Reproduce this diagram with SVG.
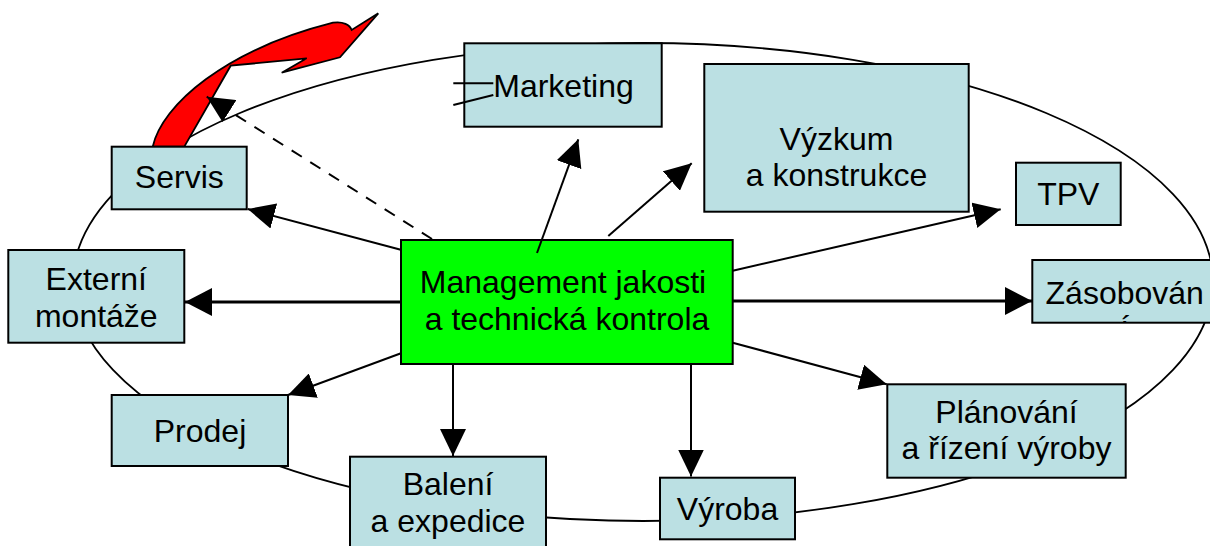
<svg xmlns="http://www.w3.org/2000/svg" width="1210" height="546" viewBox="0 0 1210 546">
<style>
.box{fill:#BBE0E3;stroke:#000;stroke-width:2}
.main{fill:#00FF00;stroke:#000;stroke-width:2}
.t{font-family:"Liberation Sans",Arial,sans-serif;font-size:32px;fill:#000;text-anchor:middle}
.c{fill:none;stroke:#000;stroke-width:2}
.thick{stroke-width:3}
.dash{stroke-dasharray:12 10}
.ring{fill:none;stroke:#000;stroke-width:1.8}
</style>
<defs>
<marker id="ah" viewBox="0 0 27 26" refX="27" refY="13" markerWidth="27" markerHeight="26" markerUnits="userSpaceOnUse" orient="auto">
<path d="M0,0 L27,13 L0,26 Z" fill="#000"/>
</marker>
<marker id="ahw" viewBox="0 0 27 28" refX="27" refY="14" markerWidth="27" markerHeight="28" markerUnits="userSpaceOnUse" orient="auto">
<path d="M0,0 L27,14 L0,28 Z" fill="#000"/>
</marker>
<clipPath id="zclip"><rect x="1032" y="260" width="185" height="62.7"/></clipPath>
</defs>

<ellipse class="ring" cx="643" cy="282" rx="570" ry="239"/>

<path id="red-arrow" d="M152.7,146.7 C162,105 225,50 333,22.7 C343,21 350,25 351.7,30 L378.3,13.3 L340,57.3 L281.7,72.7 L306.7,58.3 L230.7,65.7 L184.3,146.7 Z" fill="#FF0000" stroke="#000" stroke-width="1.8" stroke-linejoin="miter"/>

<g id="node-marketing"><rect class="box" x="464.3" y="43.3" width="197.4" height="83.4"/><text class="t" x="563.5" y="97">Marketing</text></g>
<g id="node-servis"><rect class="box" x="111.7" y="146.7" width="135" height="62.6"/><text class="t" x="179.3" y="188.3">Servis</text></g>
<g id="node-vyzkum"><rect class="box" x="704.3" y="64" width="264.4" height="147.7"/><text class="t" x="836.5" y="150">Výzkum</text><text class="t" x="836.5" y="186">a konstrukce</text></g>
<g id="node-tpv"><rect class="box" x="1016" y="162.7" width="104.7" height="62.3"/><text class="t" x="1068.3" y="205">TPV</text></g>
<g id="node-externi"><rect class="box" x="8.3" y="250" width="176" height="92.7"/><text class="t" x="96.3" y="290">Externí</text><text class="t" x="96.3" y="326.7">montáže</text></g>
<g id="node-zasobovani"><rect class="box" x="1032.3" y="260" width="185" height="62.7"/><text class="t" x="1124.7" y="304">Zásobován</text><text class="t" x="1124.7" y="338" clip-path="url(#zclip)">í</text></g>
<g id="node-prodej"><rect class="box" x="111.7" y="395" width="176.3" height="71"/><text class="t" x="200" y="442">Prodej</text></g>
<g id="node-baleni"><rect class="box" x="350" y="456.7" width="196" height="105"/><text class="t" x="448" y="495">Balení</text><text class="t" x="448" y="531.7">a expedice</text></g>
<g id="node-vyroba"><rect class="box" x="660" y="477.7" width="135" height="61.6"/><text class="t" x="727.5" y="520">Výroba</text></g>
<g id="node-planovani"><rect class="box" x="887.3" y="384.3" width="238.4" height="93.4"/><text class="t" x="1006.5" y="423.3">Plánování</text><text class="t" x="1006.5" y="459.3">a řízení výroby</text></g>
<g id="node-management"><rect class="main" x="401" y="240" width="331.7" height="124"/><text class="t" x="563" y="293.3">Management jakosti</text><text class="t" x="567" y="330">a technická kontrola</text></g>

<g id="connectors">
<line class="c" x1="401.7" y1="250" x2="247.7" y2="209" marker-end="url(#ah)"/>
<line class="c thick" x1="401" y1="302" x2="185" y2="302" marker-end="url(#ahw)"/>
<line class="c" x1="537" y1="253" x2="578.3" y2="139.3" marker-end="url(#ah)"/>
<line class="c" x1="608.3" y1="236" x2="691.7" y2="163.3" marker-end="url(#ah)"/>
<line class="c" x1="732.7" y1="270.7" x2="1000.7" y2="209.3" marker-end="url(#ah)"/>
<line class="c thick" x1="733" y1="301" x2="1032" y2="301" marker-end="url(#ahw)"/>
<line class="c" x1="732.7" y1="342.7" x2="886.7" y2="384.3" marker-end="url(#ah)"/>
<line class="c" x1="401" y1="353.3" x2="288" y2="395" marker-end="url(#ah)"/>
<line class="c" x1="453" y1="364" x2="453" y2="456" marker-end="url(#ah)"/>
<line class="c" x1="691" y1="364" x2="691" y2="476.5" marker-end="url(#ah)"/>
<line class="c dash" x1="432" y1="239" x2="206.7" y2="96.7" marker-end="url(#ah)"/>
<line class="c" x1="453.3" y1="83.3" x2="493.3" y2="83.3"/>
<line class="c" x1="453.3" y1="105" x2="493.3" y2="95"/>
</g>
</svg>
